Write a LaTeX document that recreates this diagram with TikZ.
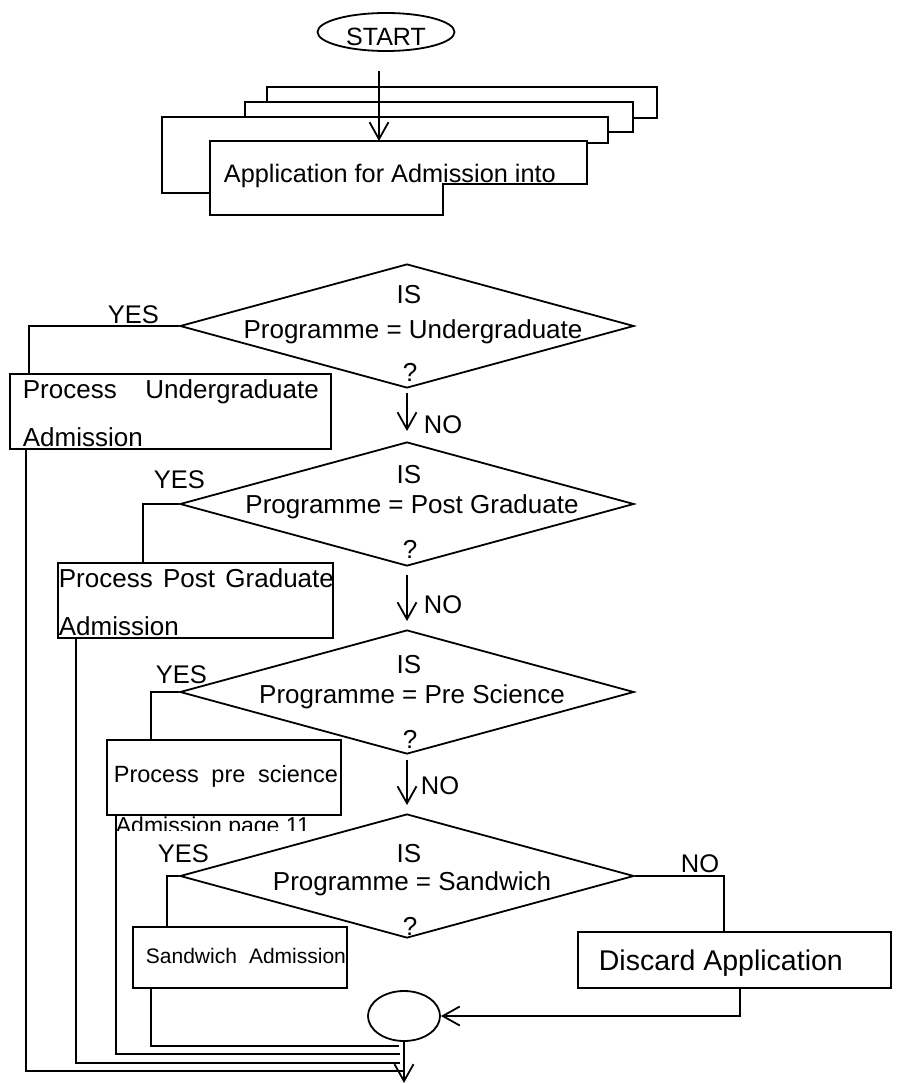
\documentclass[tikz,border=0pt]{standalone}
\usepackage{fontspec}
\setmainfont{Liberation Sans}
\usetikzlibrary{shapes.geometric,arrows.meta}

\begin{document}
\begin{tikzpicture}[x=1pt, y=-1pt, line width=1.8pt,
    flow/.style={-{Straight Barb[length=17pt,width=19pt]}},
    txt/.style={inner sep=0pt, anchor=base, font=\fontsize{26}{30}\selectfont},
    lbl/.style={inner sep=0pt, anchor=base west, font=\fontsize{25.5}{30}\selectfont},
    procbox/.style={draw, rectangle, inner sep=0pt},
    decision/.style={draw, diamond, inner sep=0pt, minimum width=454pt, minimum height=124pt}]
    \useasboundingbox (0,0) rectangle (897,1083);
        % start and the stack of application forms
        \node[draw, ellipse, inner sep=0pt, minimum width=137pt, minimum height=38pt] (start) at (386,32) {};
        \node[txt, font=\fontsize{25}{30}\selectfont] (starttxt) at (386,46) {START};
        \draw (267,102) -- (267,87) -- (657,87) -- (657,118) -- (633,118);
        \draw (245,117) -- (245,102) -- (633,102) -- (633,132) -- (608,132);
        \draw (210,193) -- (162,193) -- (162,117) -- (608,117) -- (608,143) -- (587,143);
        \draw (210,141) -- (587,141) -- (587,184) -- (443,184) -- (443,215) -- (210,215) -- cycle;
        \node[lbl, font=\fontsize{25.3}{30}\selectfont] (app) at (223,183) {Application for Admission into};
        \coordinate (startout) at (379,71);
        \coordinate (appin) at (379,141);
        \draw[flow] (startout) -- (appin);
        % decisions
        \node[decision] (d1) at (407,326) {};
        \node[txt] (d1is) at (409,303) {IS};
        \node[txt] (d1prog) at (413,338) {Programme = Undergraduate};
        \node[txt] (d1q) at (410,381) {?};
        \node[decision] (d2) at (407,504) {};
        \node[txt] (d2is) at (409,483) {IS};
        \node[txt] (d2prog) at (412,513) {Programme = Post Graduate};
        \node[txt] (d2q) at (410,558) {?};
        \node[decision] (d3) at (407,692) {};
        \node[txt] (d3is) at (409,673) {IS};
        \node[txt] (d3prog) at (412,703) {Programme = Pre Science};
        \node[txt] (d3q) at (410,748) {?};
        \node[decision] (d4) at (407,876) {};
        \node[txt] (d4is) at (409,862) {IS};
        \node[txt] (d4prog) at (412,890) {Programme = Sandwich};
        \node[txt] (d4q) at (410,935) {?};
        \draw[flow, shorten <=4pt, shorten >=10pt] (d1.south) -- (d2.north);
        \draw[flow, shorten <=8pt, shorten >=8pt] (d2.south) -- (d3.north);
        \draw[flow, shorten <=5pt, shorten >=8pt] (d3.south) -- (d4.north);
        \node[lbl] (no1) at (423,433) {NO};
        \node[lbl] (no2) at (423,613) {NO};
        \node[lbl] (no3) at (420,794) {NO};
        \node[lbl] (no4) at (680,872) {NO};
        % process boxes
        \node[procbox, minimum width=321pt, minimum height=75pt] (ug) at (170.5,411.5) {};
        \node[lbl, font=\fontsize{26}{30}\selectfont] (ugtxt) at (22,398) {\makebox[296pt][s]{Process Undergraduate}};
        \node[lbl, font=\fontsize{26}{30}\selectfont] (ugtxtb) at (22,446) {Admission};
        \node[procbox, minimum width=275pt, minimum height=75pt] (pg) at (195.5,600.5) {};
        \node[lbl, font=\fontsize{26}{30}\selectfont] (pgtxt) at (58,587) {\makebox[275pt][s]{Process Post Graduate}};
        \node[lbl, font=\fontsize{26}{30}\selectfont] (pgtxtb) at (58,635) {Admission};
        \node[procbox, minimum width=234pt, minimum height=75pt] (ps) at (224,777.5) {};
        \node[lbl, font=\fontsize{23.5}{28}\selectfont] (pstxt) at (113,782) {\makebox[224pt][s]{Process pre science}};
        \begin{scope}
            \clip (100,812) rectangle (345,830);
            \node[lbl, font=\fontsize{23}{28}\selectfont] (pstxtb) at (115,833) {Admission page 11};
        \end{scope}
        \node[procbox, minimum width=214pt, minimum height=61pt] (sw) at (240,957.5) {};
        \node[lbl, font=\fontsize{21}{25}\selectfont] (swtxt) at (145,963) {\makebox[200pt][s]{Sandwich Admission}};
        \node[procbox, minimum width=313pt, minimum height=56pt] (disc) at (734.5,960) {};
        \node[lbl, font=\fontsize{28.5}{32}\selectfont] (disctxt) at (598,970) {Discard Application};
        % yes branches
        \draw (d1.west) -| ([xshift=20pt]ug.north west);
        \draw (d2.west) -| ([xshift=86pt]pg.north west);
        \draw (d3.west) -| ([xshift=45pt]ps.north west);
        \draw (d4.west) -| ([xshift=35pt]sw.north west);
        \draw (d4.east) -| ([xshift=147pt]disc.north west);
        \node[lbl] (yes1) at (107,323) {YES};
        \node[lbl] (yes2) at (153,488) {YES};
        \node[lbl] (yes3) at (155,683) {YES};
        \node[lbl] (yes4) at (157,862) {YES};
        % joining up
        \node[draw, ellipse, inner sep=0pt, minimum width=72pt, minimum height=50pt] (conn) at (404,1016) {};
        \draw[flow] ([xshift=163pt]disc.south west) |- (conn.east);
        \coordinate (j1) at (399,1046);
        \coordinate (j2) at (400,1054);
        \coordinate (j3) at (400,1063);
        \coordinate (j4) at (404,1071);
        \draw ([xshift=19pt]sw.south west) |- (j1);
        \draw ([xshift=10pt]ps.south west) |- (j2);
        \draw ([xshift=19pt]pg.south west) |- (j3);
        \draw ([xshift=17pt]ug.south west) |- (j4);
        \coordinate (stop) at (404,1083);
        \draw[flow] (conn.south) -- (stop);
    \end{tikzpicture}
\end{document}
